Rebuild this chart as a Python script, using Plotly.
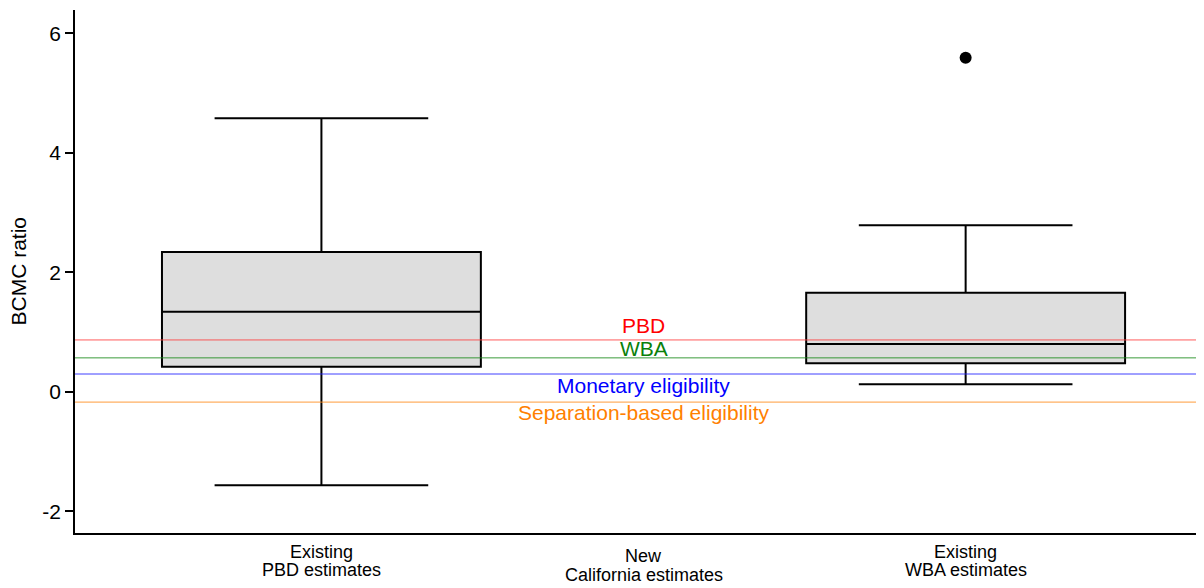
import plotly.graph_objects as go

cat_pos = [0, 1, 2]
cat_line1 = ["Existing", "New", "Existing"]
cat_line2 = ["PBD estimates", "California estimates", "WBA estimates"]

box_names = ["Existing PBD estimates", "Existing WBA estimates"]
box_x = [0, 2]
q1 = [0.42, 0.48]
median = [1.34, 0.80]
q3 = [2.34, 1.66]
lowerfence = [-1.56, 0.13]
upperfence = [4.58, 2.79]

outlier_x = [2]
outlier_y = [5.59]

ref_labels = ["PBD", "WBA", "Monetary eligibility", "Separation-based eligibility"]
ref_values = [0.87, 0.57, 0.30, -0.17]
ref_colors = ["#ff4040", "#1a8c1a", "#2020ff", "#ff8c1a"]
ref_text_colors = ["#ff0000", "#0a800a", "#0000ff", "#ff8000"]
ref_text_y = [1.12, 0.72, 0.11, -0.35]

y_tickvals = [-2, 0, 2, 4, 6]
y_ticktext = ["-2", "0", "2", "4", "6"]

FONT = "Liberation Sans, Arial, sans-serif"

fig = go.Figure()

for i in range(len(box_x)):
    fig.add_trace(go.Box(
        x=[box_x[i]], q1=[q1[i]], median=[median[i]], q3=[q3[i]],
        lowerfence=[lowerfence[i]], upperfence=[upperfence[i]],
        width=0.99, whiskerwidth=0.67,
        fillcolor="#dedede", line=dict(color="black", width=2),
        boxpoints=False, name=box_names[i], showlegend=False,
        hoverinfo="skip",
    ))

fig.add_trace(go.Scatter(
    x=outlier_x, y=outlier_y, mode="markers",
    marker=dict(color="black", size=12), showlegend=False,
))

for v, c in zip(ref_values, ref_colors):
    fig.add_hline(y=v, line=dict(color=c, width=1), opacity=0.85, layer="above")

for lab, ty, tc in zip(ref_labels, ref_text_y, ref_text_colors):
    fig.add_annotation(x=1, y=ty, text=lab, showarrow=False,
                       font=dict(color=tc, size=21, family=FONT),
                       xanchor="center", yanchor="middle")

# category labels (two lines each)
line_shift1 = [-19, -23, -19]
line_shift2 = [-37, -42, -37]
for x, l1, l2, s1, s2 in zip(cat_pos, cat_line1, cat_line2, line_shift1, line_shift2):
    fig.add_annotation(x=x, y=0, xref="x", yref="paper", text=l1, showarrow=False,
                       yanchor="middle", xanchor="center", yshift=s1,
                       font=dict(size=18, family=FONT, color="black"))
    fig.add_annotation(x=x, y=0, xref="x", yref="paper", text=l2, showarrow=False,
                       yanchor="middle", xanchor="center", yshift=s2,
                       font=dict(size=18, family=FONT, color="black"))

fig.add_annotation(x=0, y=0.5, xref="paper", yref="paper", text="BCMC ratio",
                   textangle=-90, showarrow=False, xanchor="center", yanchor="middle",
                   xshift=-57, font=dict(size=21, family=FONT, color="black"))

fig.update_layout(
    width=1196, height=580,
    margin=dict(l=67, r=0, t=2, b=55),
    plot_bgcolor="white", paper_bgcolor="white",
    font=dict(family=FONT, color="black"),
    showlegend=False,
)
fig.update_xaxes(
    range=[-0.765, 2.74], tickvals=cat_pos, showticklabels=False,
    showline=True, linecolor="black", linewidth=1.5, showgrid=False, zeroline=False,
    ticks="", automargin=False,
)
fig.update_yaxes(
    range=[-2.36, 6.39], tickvals=y_tickvals, ticktext=y_ticktext,
    showline=True, linecolor="black", linewidth=1.5, showgrid=False, zeroline=False,
    ticks="outside", ticklen=8, tickwidth=1.5, tickcolor="black",
    tickfont=dict(size=21), automargin=False,
)

fig.write_html("out.html")
